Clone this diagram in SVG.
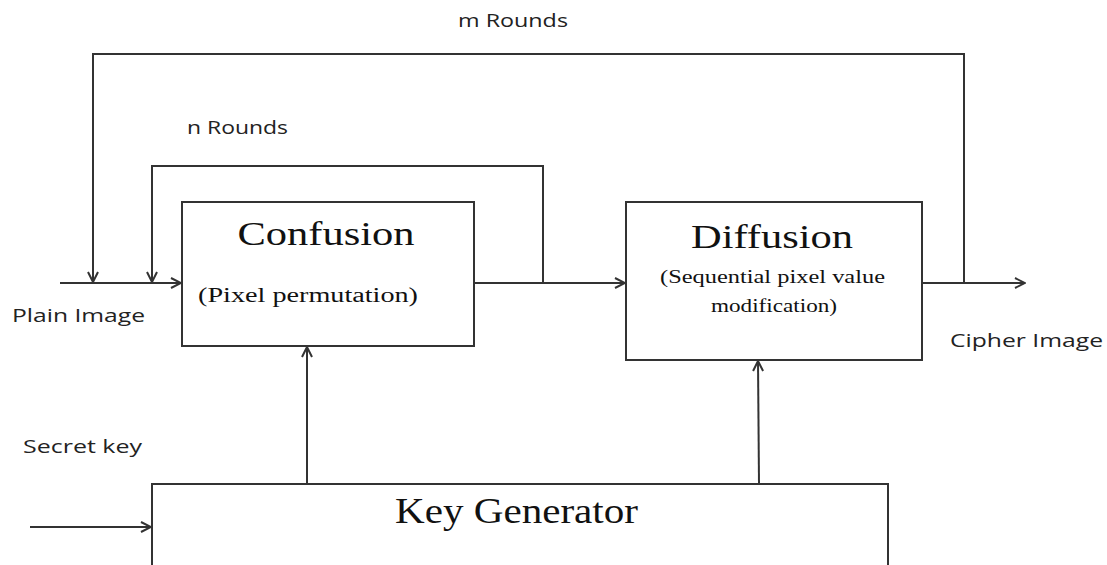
<svg xmlns="http://www.w3.org/2000/svg" width="1107" height="565" viewBox="0 0 1107 565">
<defs>
<marker id="arr" viewBox="0 0 12 12" refX="11" refY="6" markerWidth="12" markerHeight="12" markerUnits="userSpaceOnUse" orient="auto">
<path d="M1,1 L11,6 L1,11" fill="none" stroke="#333" stroke-width="2"/>
</marker>
<style>
.box{fill:#fff;stroke:#333;stroke-width:2}
.ln{fill:none;stroke:#333;stroke-width:2}
.sans{font-family:"Open Sans","Liberation Sans",sans-serif;fill:#222}
.serif{font-family:"Liberation Serif","Times New Roman",serif;fill:#111}
</style>
</defs>
<rect width="1107" height="565" fill="#fff"/>
<g id="connectors">
<line class="ln" x1="60" y1="283" x2="181" y2="283" marker-end="url(#arr)"/>
<line class="ln" x1="474" y1="283" x2="625" y2="283" marker-end="url(#arr)"/>
<line class="ln" x1="922" y1="283" x2="1025" y2="283" marker-end="url(#arr)"/>
<polyline class="ln" points="964,283 964,54 93,54 93,282" marker-end="url(#arr)"/>
<polyline class="ln" points="543,283 543,166 152,166 152,282" marker-end="url(#arr)"/>
<line class="ln" x1="307" y1="484" x2="307" y2="347" marker-end="url(#arr)"/>
<line class="ln" x1="759" y1="484" x2="758" y2="361" marker-end="url(#arr)"/>
<line class="ln" x1="30" y1="527" x2="151" y2="527" marker-end="url(#arr)"/>
</g>
<g id="confusion">
<rect class="box" x="182" y="202" width="292" height="144"/>
<text class="serif" x="326" y="245" font-size="33" text-anchor="middle" textLength="177" lengthAdjust="spacingAndGlyphs">Confusion</text>
<text class="serif" x="198" y="302" font-size="20" textLength="220" lengthAdjust="spacingAndGlyphs">(Pixel permutation)</text>
</g>
<g id="diffusion">
<rect class="box" x="626" y="202" width="296" height="158"/>
<text class="serif" x="772" y="248" font-size="33" text-anchor="middle" textLength="162" lengthAdjust="spacingAndGlyphs">Diffusion</text>
<text class="serif" x="660" y="283" font-size="18" textLength="225" lengthAdjust="spacingAndGlyphs">(Sequential pixel value</text>
<text class="serif" x="711" y="312" font-size="18" textLength="126" lengthAdjust="spacingAndGlyphs">modification)</text>
</g>
<g id="keygen">
<rect class="box" x="152" y="484" width="736" height="100"/>
<text class="serif" x="395" y="523" font-size="36" textLength="243" lengthAdjust="spacingAndGlyphs">Key Generator</text>
</g>
<g id="labels">
<text class="sans" x="458" y="27" font-size="18" textLength="110" lengthAdjust="spacingAndGlyphs">m Rounds</text>
<text class="sans" x="187" y="134" font-size="18" textLength="101" lengthAdjust="spacingAndGlyphs">n Rounds</text>
<text class="sans" x="12" y="322" font-size="19" textLength="133" lengthAdjust="spacingAndGlyphs">Plain Image</text>
<text class="sans" x="950" y="347" font-size="19" textLength="153" lengthAdjust="spacingAndGlyphs">Cipher Image</text>
<text class="sans" x="23" y="453" font-size="19" textLength="119" lengthAdjust="spacingAndGlyphs">Secret key</text>
</g>
</svg>
